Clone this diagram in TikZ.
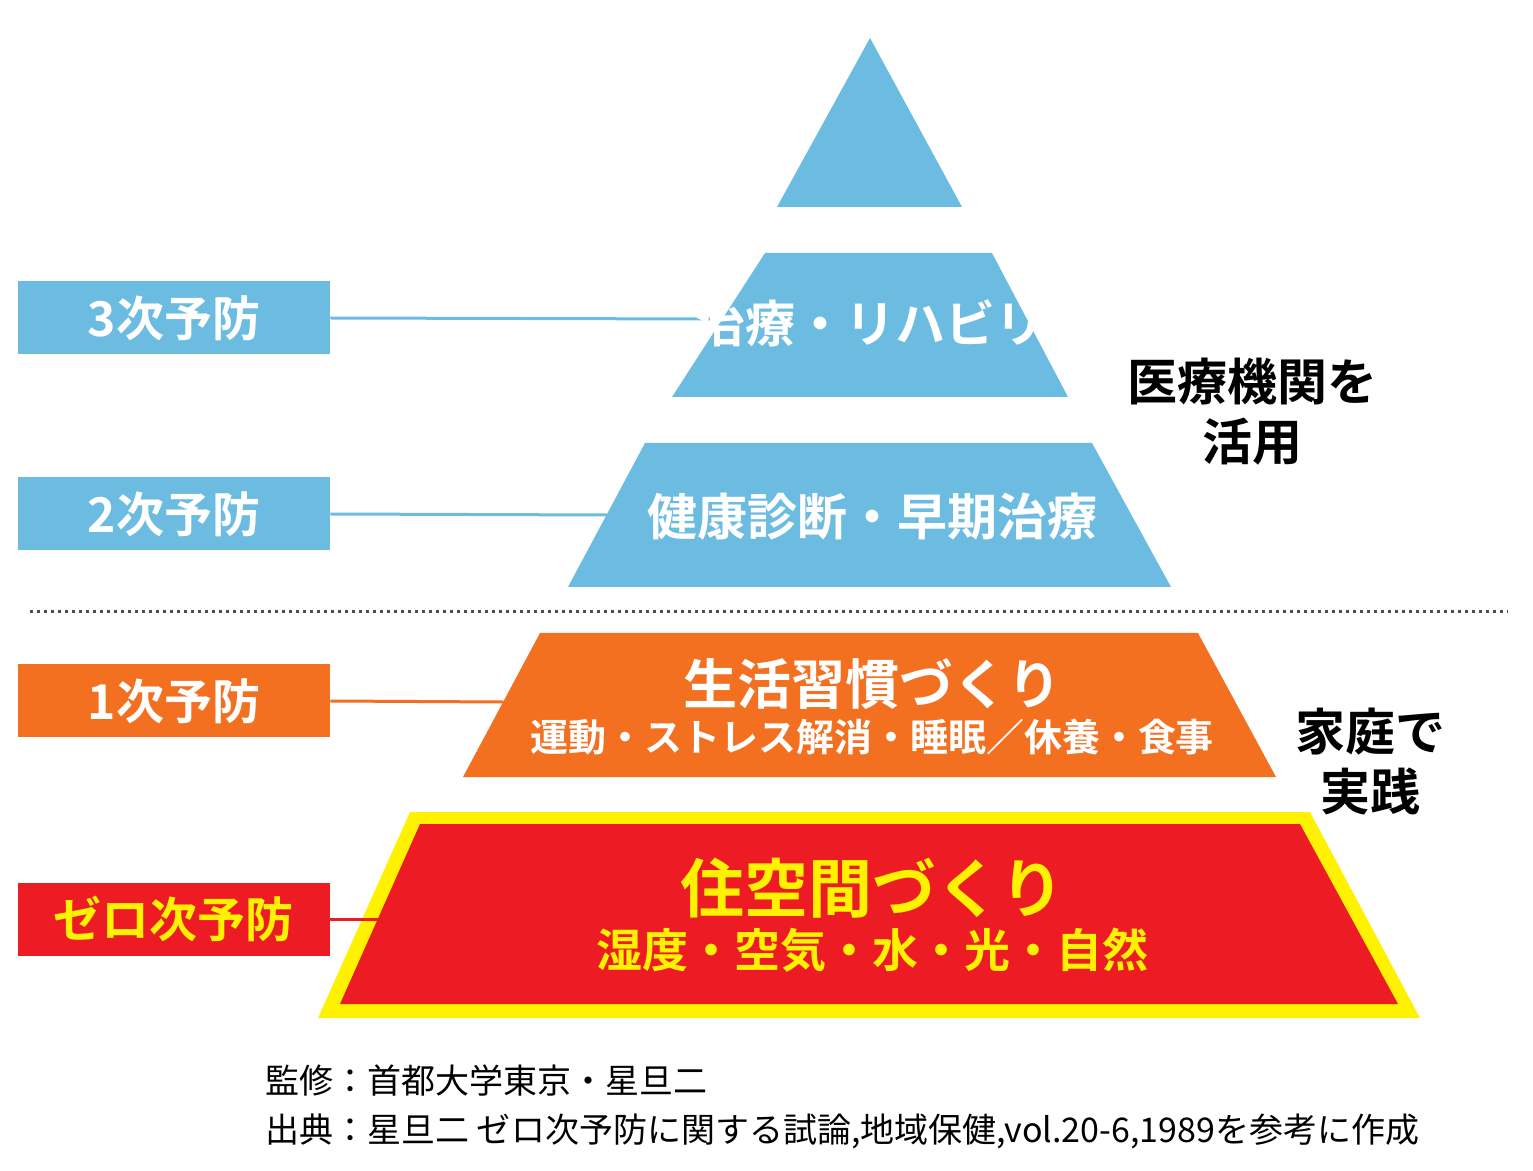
\documentclass[tikz,border=0pt]{standalone}
\usepackage{fontspec}
\setmainfont{Noto Sans CJK JP}
\newfontfamily\jpb{Noto Sans CJK JP Bold}
\definecolor{blu}{HTML}{6CBCE2}
\definecolor{org}{HTML}{F37021}
\definecolor{rd}{HTML}{ED1C24}
\definecolor{yl}{HTML}{FFF200}
\begin{document}
\begin{tikzpicture}[x=0.5pt,y=-0.5pt,
 lbl/.style={minimum width=156pt,minimum height=36.5pt,inner sep=0,font=\jpb\fontsize{24}{24}\selectfont,text=white},
 conn/.style={line width=1.5pt},
 bt/.style={font=\jpb\fontsize{25}{30}\selectfont,align=center}]
\useasboundingbox (0,0) rectangle (1533,1171);
\fill[blu] (870,38) -- (962,207) -- (777,207) -- cycle;
\fill[blu] (765,253) -- (992,253) -- (1068,397) -- (672,397) -- cycle;
\fill[blu] (645,443) -- (1092,443) -- (1171,587) -- (568,587) -- cycle;
\draw[line width=1.5pt,dotted,black!70] (30,612) -- (1508,612);
\fill[org] (540,633) -- (1198,633) -- (1276,777) -- (463,777) -- cycle;
\fill[yl] (410,812) -- (1310,812) -- (1420,1018) -- (318,1018) -- cycle;
\fill[rd] (420,824) -- (1300,824) -- (1398,1004) -- (340,1004) -- cycle;
\coordinate (e3) at (710,319); \coordinate (e2) at (607,515);
\coordinate (e1) at (503,702); \coordinate (e0) at (385,919);
\node[lbl,fill=blu] (l3) at (174,318) {3次予防};
\node[lbl,fill=blu] (l2) at (174,514) {2次予防};
\node[lbl,fill=org] (l1) at (174,701) {1次予防};
\node[lbl,fill=rd,text=yl] (l0) at (174,919) {ゼロ次予防};
\draw[conn,blu] (l3.east) -- (e3);
\draw[conn,blu] (l2.east) -- (e2);
\draw[conn,org] (l1.east) -- (e1);
\draw[conn,rd] (l0.east) -- (e0);
\node[bt,text=white] (t3) at (870,323) {治療・リハビリ};
\node[bt,text=white] (t2) at (872,517) {健康診断・早期治療};
\node[bt,text=white,font=\jpb\fontsize{27}{30}\selectfont] (t1a) at (872,684) {生活習慣づくり};
\node[bt,text=white,font=\jpb\fontsize{19}{20}\selectfont] (t1b) at (872,737) {運動・ストレス解消・睡眠／休養・食事};
\node[bt,text=yl,font=\jpb\fontsize{32}{34}\selectfont] (t0a) at (872,888) {住空間づくり};
\node[bt,text=yl,font=\jpb\fontsize{23}{24}\selectfont] (t0b) at (872,950) {湿度・空気・水・光・自然};
\node[bt,font=\jpb\fontsize{25}{30}\selectfont] (r1) at (1252,412) {医療機関を\\活用};
\node[bt,font=\jpb\fontsize{25}{30}\selectfont] (r2) at (1370,762) {家庭で\\実践};
\node[anchor=west,inner sep=0,font=\fontsize{17}{17}\selectfont] (f1) at (265,1081) {監修：首都大学東京・星旦二};
\node[anchor=west,inner sep=0,font=\fontsize{17}{17}\selectfont] (f2) at (265,1131) {出典：星旦二 ゼロ次予防に関する試論,地域保健,vol.20-6,1989を参考に作成};
\end{tikzpicture}
\end{document}
